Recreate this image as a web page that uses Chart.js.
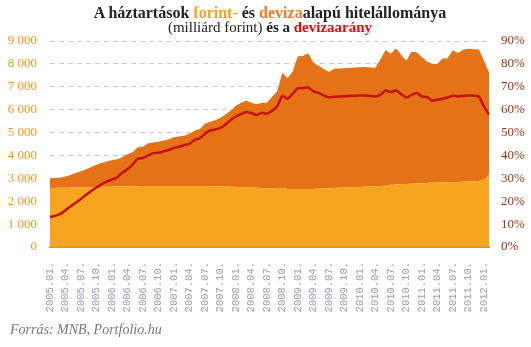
<!DOCTYPE html>
<html>
<head>
<meta charset="utf-8">
<script src="https://cdn.jsdelivr.net/npm/chart.js@4"></script>
<style>
  body { margin: 0; background: #fff; }
  #wrap { position: relative; width: 531px; height: 347px; }
  #title { position: absolute; left: 0; top: 5px; width: 540px; text-align: center;
           font-family: "Liberation Serif", serif; color: #222; }
  #title .l1 { font-weight: bold; font-size: 16px; line-height: 15px; }
  #title .l2 { font-size: 15px; line-height: 14px; }
  #source { position: absolute; left: 10px; top: 322px; font-family: "Liberation Serif", serif;
            font-style: italic; font-size: 14px; color: #777; }
</style>
</head>
<body>
<div id="wrap">
  <canvas id="chart"></canvas>
  <div id="title">
    <div class="l1">A háztartások <span style="color:#f9a11b">forint-</span> és <span style="color:#f47920">deviza</span>alapú hitelállománya</div>
    <div class="l2">(milliárd forint) <b>és a</b> <b style="color:#ff0000">devizaarány</b></div>
  </div>
  <div id="source">Forrás: MNB, Portfolio.hu</div>
</div>
<script>
// havi adatok 2005.01. - 2012.02.
const years = ['2005', '2006', '2007', '2008', '2009', '2010', '2011', '2012'];
const months = ['01', '02', '03', '04', '05', '06', '07', '08', '09', '10', '11', '12'];
const labels = [];
years.forEach(y => months.forEach(m => labels.push(y + '.' + m + '.')));
labels.length = 86;

// forintalapú hitelállomány (mrd Ft)
const forint = [
  2580, 2582, 2585, 2588, 2592, 2596, 2600, 2605, 2610, 2615, 2622, 2628,
  2634, 2640, 2645, 2650, 2655, 2658, 2662, 2666, 2669, 2670, 2670, 2670,
  2670, 2670, 2670, 2669, 2668, 2666, 2662, 2658, 2654, 2648, 2640, 2632,
  2624, 2615, 2605, 2595, 2585, 2575, 2565, 2555, 2548, 2542, 2538, 2535,
  2532, 2530, 2530, 2535, 2545, 2555, 2565, 2575, 2585, 2595, 2605, 2615,
  2625, 2635, 2645, 2655, 2665, 2690, 2720, 2735, 2745, 2755, 2765, 2775,
  2785, 2800, 2810, 2818, 2825, 2832, 2838, 2845, 2852, 2860, 2870, 2885,
  2950, 3160
];

// teljes (forint + deviza) hitelállomány (mrd Ft)
const total = [
  2994, 3010, 3030, 3080, 3150, 3230, 3310, 3400, 3500, 3590, 3670, 3740,
  3790, 3830, 3920, 4050, 4150, 4350, 4380, 4530, 4570, 4600, 4650, 4710,
  4790, 4830, 4860, 4960, 5084, 5150, 5380, 5470, 5540, 5650, 5790, 5960,
  6170, 6300, 6390, 6300, 6240, 6290, 6310, 6560, 6800, 7600, 7384, 7674,
  8330, 8350, 8450, 8060, 7920, 7780, 7650, 7790, 7800, 7810, 7820, 7840,
  7850, 7860, 7840, 7830, 8200, 8600, 8450, 8670, 8400, 8143, 8525, 8500,
  8300, 8100, 7998, 8000, 8230, 8250, 8580, 8480, 8620, 8660, 8640, 8626,
  8150, 7647
];

// devizaarány (%)
const arany = [
  13.1, 13.6, 14.5, 16.0, 17.8, 19.3, 21.0, 22.8, 24.5, 26.0, 27.5, 28.6,
  29.5, 30.4, 32.5, 34.0, 36.0, 38.6, 38.9, 40.0, 41.0, 41.2, 41.8, 42.4,
  43.3, 43.8, 44.5, 45.0, 46.8, 47.5, 49.5, 50.9, 51.3, 52.0, 53.5, 55.5,
  57.0, 58.2, 59.0, 58.5, 57.7, 58.6, 58.2, 59.5, 61.5, 66.1, 64.8, 67.0,
  69.4, 69.5, 69.7, 68.0, 67.3, 66.2, 65.3, 65.6, 65.8, 65.9, 66.0, 66.1,
  66.2, 66.2, 66.0, 65.8, 66.5, 68.4, 67.7, 68.4, 66.8, 65.3, 66.5, 67.3,
  65.8, 65.5, 64.0, 64.3, 64.8, 65.3, 66.1, 65.8, 66.0, 66.2, 66.1, 65.8,
  61.5, 57.8
];

const leftTicks = [0, 1000, 2000, 3000, 4000, 5000, 6000, 7000, 8000, 9000];
const rightTicks = [0, 10, 20, 30, 40, 50, 60, 70, 80, 90];

const serif = 'Liberation Serif';

new Chart(document.getElementById('chart'), {
  type: 'line',
  data: {
    labels: labels,
    datasets: [{
      label: 'Devizaarány',
      data: arany,
      yAxisID: 'y1',
      borderColor: '#c4120f',
      borderWidth: 2.5,
      pointRadius: 0,
      tension: 0.2,
      fill: false
    }, {
      label: 'Forint',
      data: forint,
      yAxisID: 'y',
      borderWidth: 0,
      pointRadius: 0,
      backgroundColor: '#f7a51e',
      fill: 'origin',
      tension: 0.2
    }, {
      label: 'Deviza',
      data: total,
      yAxisID: 'y',
      borderWidth: 0,
      pointRadius: 0,
      backgroundColor: '#e57216',
      fill: 1,
      tension: 0.1
    }]
  },
  options: {
    responsive: true,
    maintainAspectRatio: false,
    animation: false,
    layout: { padding: { top: 41, left: 0, right: 0, bottom: 0 } },
    plugins: {
      legend: { display: false },
      tooltip: { enabled: false }
    },
    scales: {
      x: {
        grid: { display: false },
        border: { display: true, color: '#9a9a9a', width: 2 },
        ticks: {
          autoSkip: false,
          maxRotation: 90,
          minRotation: 90,
          padding: 7,
          color: '#a0a0ae',
          font: { family: 'Liberation Mono', size: 10.5 },
          callback: function(v, i) { return i % 3 === 0 ? labels[i] : ''; }
        },
        afterFit: function(s) { s.height = 100; }
      },
      y: {
        position: 'left',
        min: 0,
        max: 9000,
        afterBuildTicks: function(s) { s.ticks = leftTicks.map(v => ({ value: v })); },
        grid: { color: '#cccccc', drawTicks: false },
        border: { display: false, dash: [5, 4] },
        ticks: {
          padding: 13,
          color: '#f7941d',
          font: { family: serif, size: 13 },
          callback: function(v) { return v >= 1000 ? Math.floor(v / 1000) + ' 000' : String(v); }
        },
        afterFit: function(s) { s.width = 50; }
      },
      y1: {
        position: 'right',
        min: 0,
        max: 90,
        afterBuildTicks: function(s) { s.ticks = rightTicks.map(v => ({ value: v })); },
        grid: { drawOnChartArea: false, drawTicks: false },
        border: { display: false },
        ticks: {
          padding: 12,
          color: '#9a3412',
          font: { family: serif, size: 13 },
          callback: function(v) { return v + '%'; }
        },
        afterFit: function(s) { s.width = 42; }
      }
    }
  }
});
</script>
</body>
</html>
